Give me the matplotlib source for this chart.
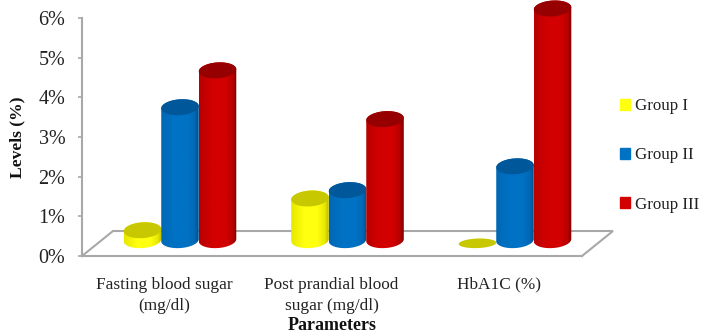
import numpy as np
import matplotlib
matplotlib.use('Agg')
import matplotlib.pyplot as plt
import matplotlib.patches as mpatches
from matplotlib.colors import LinearSegmentedColormap

categories = ['Fasting blood sugar\n(mg/dl)', 'Post prandial blood\nsugar (mg/dl)', 'HbA1C (%)']
group_names = ['Group I', 'Group II', 'Group III']
group1 = [0.25, 1.05, 0.0]
group2 = [3.35, 1.26, 1.86]
group3 = [4.28, 3.05, 5.84]
ticks = [0, 1, 2, 3, 4, 5, 6]
tick_labels = ['0%', '1%', '2%', '3%', '4%', '5%', '6%']

# colours per group: edge, centre, dark edge, top of the cylinder
cores = [('#e8e800', '#ffff10', '#b8b800', '#c8c800'),
         ('#0068b4', '#0072c4', '#004f8c', '#00579a'),
         ('#b80000', '#d20000', '#7a0000', '#960000')]
grey = '#a8a8a8'
serif = 'Liberation Serif'

W, H = 701, 336
fig = plt.figure(figsize=(W / 100, H / 100), dpi=100, facecolor='white')
ax = fig.add_axes([82 / W, 1 - 256 / H, 500 / W, 238 / H])
ax.set_xlim(-0.585, 2.400)
ax.set_ylim(0, 6)

# floor of the 3d chart
depth_x = 0.185
floor_y = 0.63
base_y = 0.40
x0, x1 = ax.get_xlim()
ax.plot([x0, x0 + depth_x, x1 + depth_x, x1], [0, floor_y, floor_y, 0],
        color=grey, lw=1.5, clip_on=False, zorder=1, solid_joinstyle='miter')

bar_w = 0.112   # half width
ell_h = 0.20    # half height of the ellipses
tilt = 0.07     # ellipses rise a little to the right
offset = 0.224


def ellipse(cx, cy, t, h=ell_h):
    return cx + bar_w * np.cos(t), cy + h * np.sin(t) + tilt * np.cos(t) * h * 2


def cilindro(cx, val, cor, z):
    edge, centre, dark, top = cor
    topo = base_y + val
    if val > 0:
        t = np.linspace(np.pi, 2 * np.pi, 40)
        bx, by = ellipse(cx, base_y, t)
        tt = np.linspace(0, np.pi, 40)
        ux, uy = ellipse(cx, topo, tt)
        verts = np.column_stack([np.r_[bx, ux], np.r_[by, uy]])
        corpo = mpatches.Polygon(verts, closed=True, fc='none', ec='none', clip_on=False)
        ax.add_patch(corpo)
        cmap = LinearSegmentedColormap.from_list(
            'c', [(0, edge), (0.35, centre), (0.7, centre), (0.9, edge), (1, dark)])
        grad = np.linspace(0, 1, 64).reshape(1, -1)
        img = ax.imshow(grad, cmap=cmap, aspect='auto', zorder=z, interpolation='bilinear',
                        extent=[cx - bar_w, cx + bar_w, base_y - ell_h * 1.5, topo + ell_h * 1.5])
        img.set_clip_box(fig.bbox)
        img.set_clip_path(corpo)
        h, cy = ell_h, topo
    else:
        # empty bar: only a flat disc on the floor
        h, cy = ell_h * 0.6, base_y - 0.08
    t = np.linspace(0, 2 * np.pi, 60)
    ex, ey = ellipse(cx, cy, t, h)
    ax.add_patch(mpatches.Polygon(np.column_stack([ex, ey]), closed=True, fc=top, ec='none',
                                  zorder=z + 0.1, clip_on=False))


for g, vals in enumerate([group1, group2, group3]):
    for i, v in enumerate(vals):
        cilindro(i + (g - 1) * offset, v, cores[g], 3 + g)

ax.set_xlim(-0.585, 2.400)
ax.set_ylim(0, 6)

for lado in ['top', 'right']:
    ax.spines[lado].set_visible(False)
for lado in ['left', 'bottom']:
    ax.spines[lado].set_color(grey)
    ax.spines[lado].set_linewidth(1.5)

ax.set_yticks(ticks)
ax.set_yticklabels(tick_labels, fontsize=14.5, family=serif, color='#222222')
ax.tick_params(axis='y', length=3, width=1.2, color=grey, pad=9)

ax.set_xticks(np.arange(len(categories)) - 0.095)
ax.set_xticklabels(categories, fontsize=12.4, family=serif, color='#222222', linespacing=1.45)
ax.tick_params(axis='x', length=0, pad=15)

fig.text(17 / W, 1 - 137 / H, 'Levels (%)', rotation=90, fontsize=12.6, fontweight='bold',
         family=serif, ha='center', va='center', color='#111111')
fig.text(332 / W, 1 - 325 / H, 'Parameters', fontsize=13, fontweight='bold',
         family=serif, ha='center', va='center', color='#111111')

legenda = [mpatches.Patch(color=c[1], label=nome) for c, nome in zip(cores, group_names)]
leg = fig.legend(handles=legenda, loc='center left', bbox_to_anchor=(605 / W, 1 - 155.5 / H),
                 frameon=False, labelspacing=1.95, handlelength=0.6, handleheight=0.55,
                 handletextpad=0.25, prop={'family': serif, 'size': 12.2})
for txt in leg.get_texts():
    txt.set_color('#222222')

fig.savefig('out.png', dpi=100, facecolor='white')
